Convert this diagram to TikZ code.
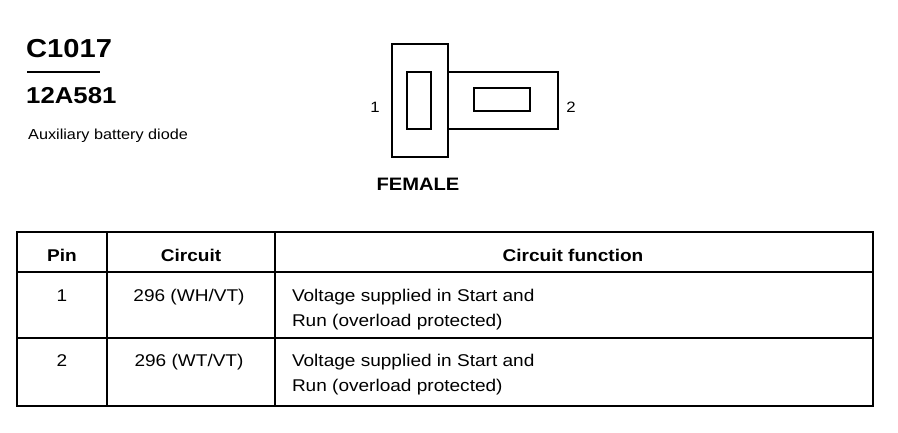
\documentclass[tikz,border=0pt]{standalone}
\usepackage{fontspec}
\setmainfont[FakeStretch=1.12]{Liberation Sans}
\begin{document}
\begin{tikzpicture}[x=1pt,y=-1pt,
  txt/.style={inner sep=0pt,outer sep=0pt,font=\fontsize{17}{20}\selectfont},
  hdr/.style={inner sep=0pt,outer sep=0pt,font=\fontsize{17}{20}\selectfont\bfseries},
  rule/.style={line width=1.9pt},
  conn/.style={line width=1.8pt}]
\useasboundingbox (0,0) rectangle (898,432);
% title block
\node[inner sep=0pt,anchor=base west,font=\fontsize{26}{30}\selectfont\bfseries] (title) at (26,57) {C1017};
\draw[line width=1.2pt] (27,72) -- (100,72);
\node[inner sep=0pt,anchor=base west,font=\fontsize{23}{26}\selectfont\bfseries] (part) at (26,103) {12A581};
\node[inner sep=0pt,anchor=base west,font=\fontsize{14.5}{17}\selectfont] (desc) at (28,139) {Auxiliary battery diode};
% connector face
\draw[conn] (392,44) rectangle (448,157);
\draw[conn] (448,72) -- (558,72) -- (558,129) -- (448,129);
\draw[conn] (407,72) rectangle (431,129);
\draw[conn] (474,88) rectangle (530,111);
\node[inner sep=0pt,anchor=base,font=\fontsize{15}{18}\selectfont] (p1) at (375,112) {1};
\node[inner sep=0pt,anchor=base,font=\fontsize{15}{18}\selectfont] (p2) at (571,112) {2};
\node[inner sep=0pt,anchor=base,font=\fontsize{18}{21}\selectfont\bfseries] (fem) at (418,190) {FEMALE};
% table
\draw[rule] (17,232) rectangle (873,406);
\draw[rule] (17,272) -- (873,272);
\draw[rule] (17,338) -- (873,338);
\draw[rule] (107,232) -- (107,406);
\draw[rule] (275,232) -- (275,406);
\node[hdr,anchor=base] (hpin) at (62,261) {Pin};
\node[hdr,anchor=base] (hcir) at (191,261) {Circuit};
\node[hdr,anchor=base] (hfun) at (573,261) {Circuit function};
\node[txt,anchor=base] (r1pin) at (62,301) {1};
\node[txt,anchor=base] (r1cir) at (189,301) {296 (WH/VT)};
\node[txt,anchor=base west] (r1fa) at (292,301) {Voltage supplied in Start and};
\node[txt,anchor=base west] (r1fb) at (292,326) {Run (overload protected)};
\node[txt,anchor=base] (r2pin) at (62,366) {2};
\node[txt,anchor=base] (r2cir) at (189,366) {296 (WT/VT)};
\node[txt,anchor=base west] (r2fa) at (292,366) {Voltage supplied in Start and};
\node[txt,anchor=base west] (r2fb) at (292,391) {Run (overload protected)};
\end{tikzpicture}
\end{document}
